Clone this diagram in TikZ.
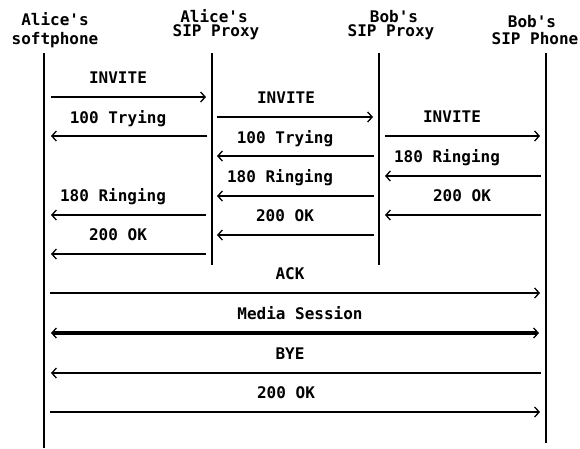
\documentclass[tikz,border=0pt]{standalone}
\usepackage{fontspec}
\setmonofont{DejaVu Sans Mono}
\usetikzlibrary{arrows.meta,calc}
\begin{document}
\begin{tikzpicture}[x=1pt,y=-1pt,
  txt/.style={font=\ttfamily\bfseries\fontsize{16}{18}\selectfont, inner sep=0pt, anchor=base},
  life/.style={line width=2pt},
  tip/.style={-{Straight Barb[length=4.5pt,width=10pt,line width=1.3pt]}},
  msg/.style={line width=1.3pt, tip},
  media/.style={line width=3.2pt, {Straight Barb[length=4.5pt,width=10pt,line width=1.3pt]}-{Straight Barb[length=4.5pt,width=10pt,line width=1.3pt]}}]
\useasboundingbox (0,0) rectangle (580,448);
% heads
\node[txt] (hA1) at (55,25) {Alice's};
\node[txt] (hA2) at (55,44) {softphone};
\node[txt] (hP1) at (214,22) {Alice's};
\node[txt] (hP2) at (216,36) {SIP Proxy};
\node[txt] (hQ1) at (394,22) {Bob's};
\node[txt] (hQ2) at (391,36) {SIP Proxy};
\node[txt] (hB1) at (532,27) {Bob's};
\node[txt] (hB2) at (535,44) {SIP Phone};
% lifelines
\coordinate (A) at (44,53);  \coordinate (Ae) at (44,448);
\coordinate (P) at (212,53); \coordinate (Pe) at (212,265);
\coordinate (Q) at (379,53); \coordinate (Qe) at (379,265);
\coordinate (B) at (546,53); \coordinate (Be) at (546,443);
\draw[life] (A) -- (Ae);
\draw[life] (P) -- (Pe);
\draw[life] (Q) -- (Qe);
\draw[life] (B) -- (Be);
% messages: drawn from lifeline to lifeline at given height
\draw[msg] ($(A|-0,97)+(7,0)$) -- ($(P|-0,97)+(-6,0)$);
\node[txt] (m1) at (118,83) {INVITE};
\draw[msg] ($(P|-0,136)+(-5,0)$) -- ($(A|-0,136)+(7,0)$);
\node[txt] (m2) at (118,123) {100 Trying};
\draw[msg] ($(P|-0,117)+(5,0)$) -- ($(Q|-0,117)+(-6,0)$);
\node[txt] (m3) at (286,103) {INVITE};
\draw[msg] ($(Q|-0,156)+(-5,0)$) -- ($(P|-0,156)+(5,0)$);
\node[txt] (m4) at (285,143) {100 Trying};
\draw[msg] ($(Q|-0,136)+(6,0)$) -- ($(B|-0,136)+(-6,0)$);
\node[txt] (m5) at (452,122) {INVITE};
\draw[msg] ($(B|-0,176)+(-5,0)$) -- ($(Q|-0,176)+(6,0)$);
\node[txt] (m6) at (447,162) {180 Ringing};
\draw[msg] ($(Q|-0,196)+(-5,0)$) -- ($(P|-0,196)+(5,0)$);
\node[txt] (m7) at (280,182) {180 Ringing};
\draw[msg] ($(B|-0,215)+(-5,0)$) -- ($(Q|-0,215)+(6,0)$);
\node[txt] (m8) at (462,201) {200 OK};
\draw[msg] ($(P|-0,215)+(-6,0)$) -- ($(A|-0,215)+(7,0)$);
\node[txt] (m9) at (113,201) {180 Ringing};
\draw[msg] ($(Q|-0,235)+(-5,0)$) -- ($(P|-0,235)+(5,0)$);
\node[txt] (m10) at (285,221) {200 OK};
\draw[msg] ($(P|-0,254)+(-6,0)$) -- ($(A|-0,254)+(7,0)$);
\node[txt] (m11) at (118,240) {200 OK};
\draw[msg] ($(A|-0,293)+(6,0)$) -- ($(B|-0,293)+(-6,0)$);
\node[txt] (m12) at (290,279) {ACK};
\draw[media] ($(A|-0,333)+(7,0)$) -- ($(B|-0,333)+(-7,0)$);
\node[txt] (m13) at (300,319) {Media Session};
\draw[msg] ($(B|-0,373)+(-5,0)$) -- ($(A|-0,373)+(7,0)$);
\node[txt] (m14) at (290,359) {BYE};
\draw[msg] ($(A|-0,412)+(6,0)$) -- ($(B|-0,412)+(-6,0)$);
\node[txt] (m15) at (286,398) {200 OK};
\end{tikzpicture}
\end{document}
